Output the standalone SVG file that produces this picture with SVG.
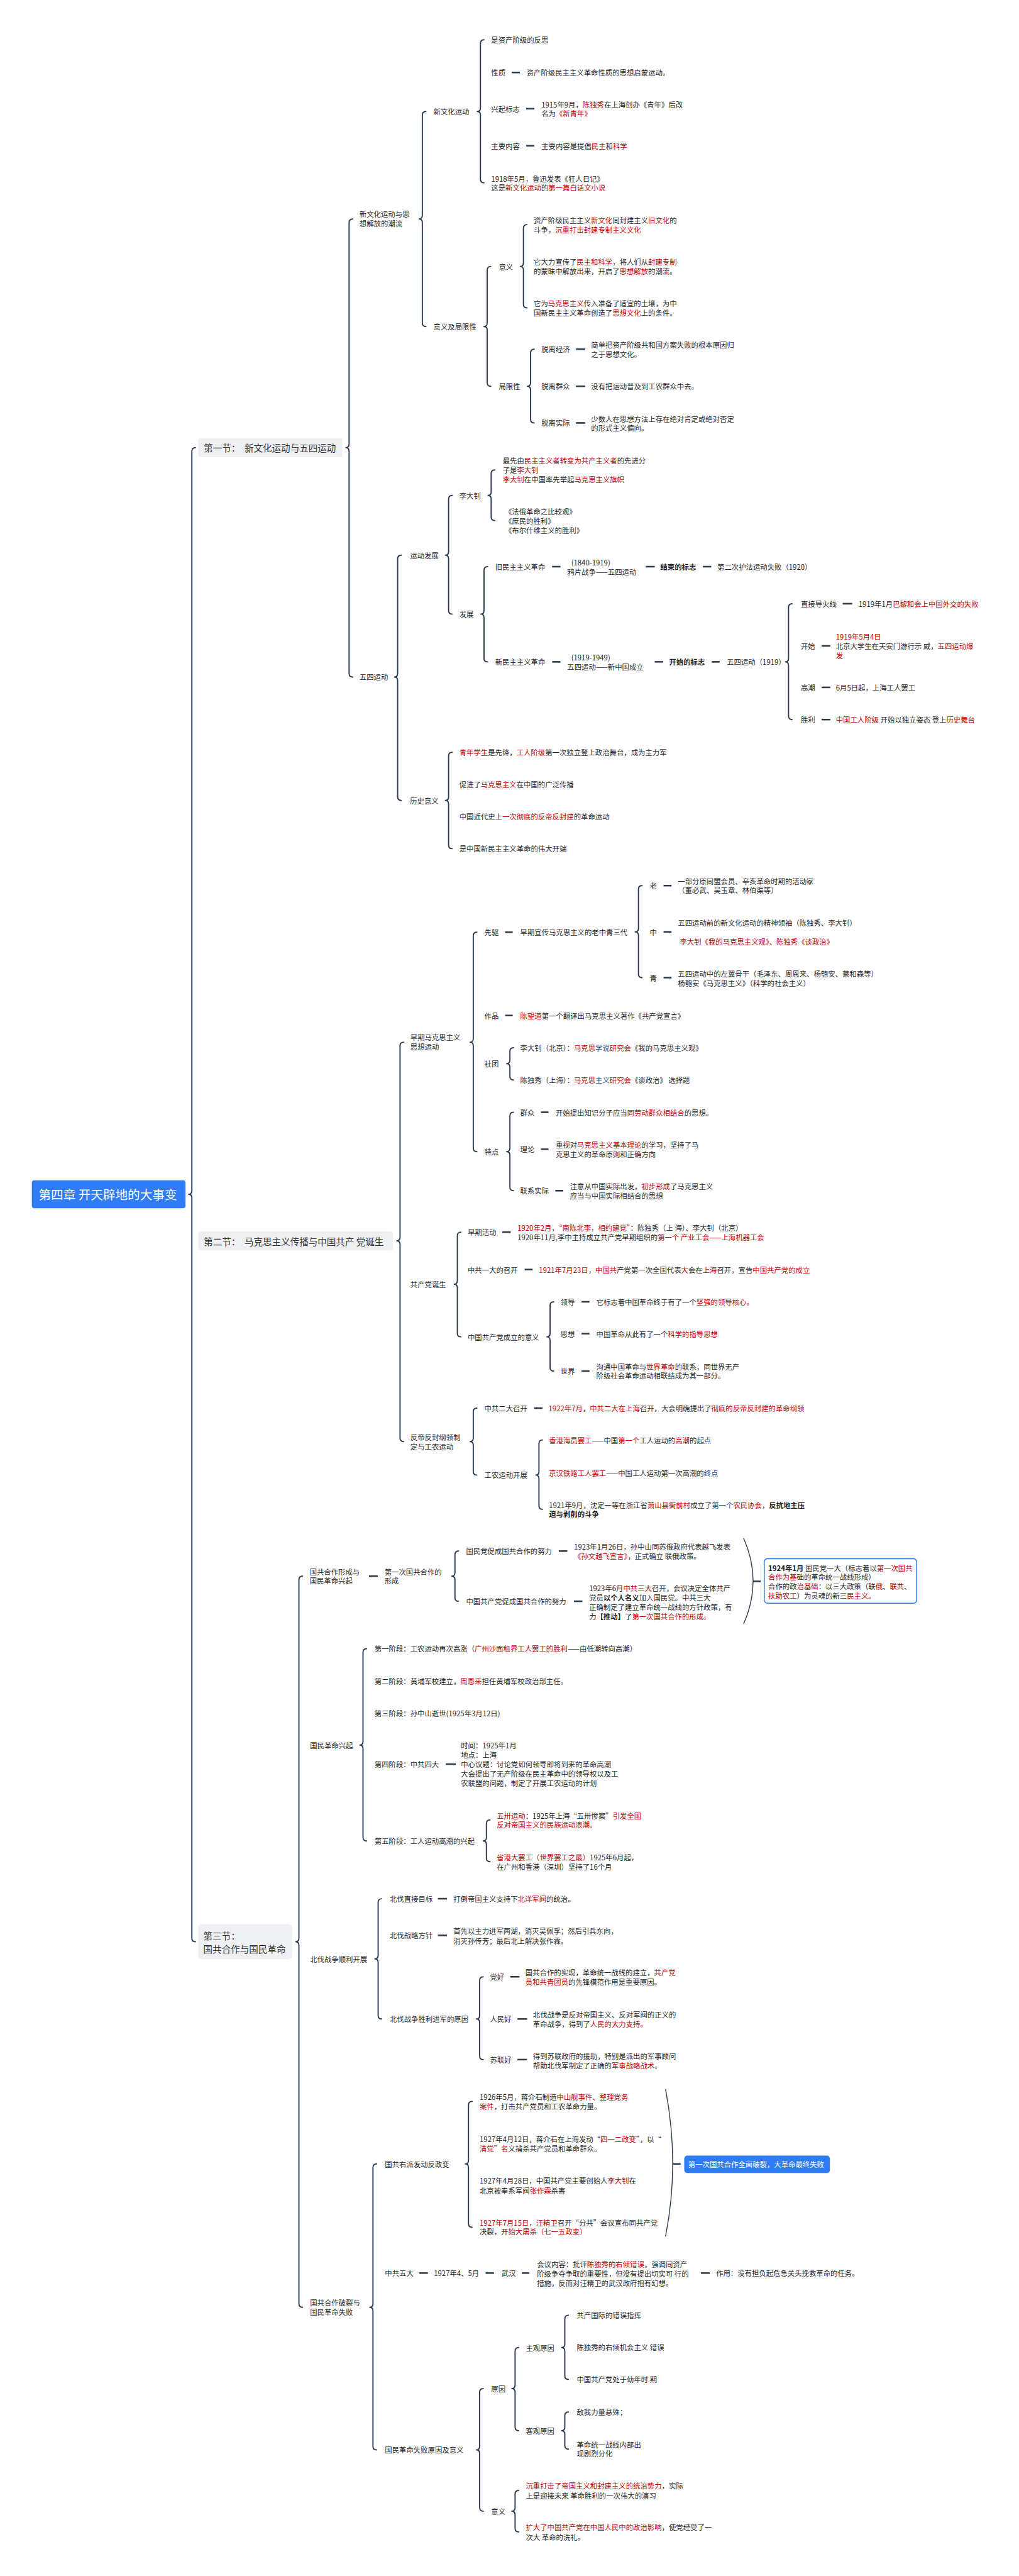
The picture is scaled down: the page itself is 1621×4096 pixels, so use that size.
<svg xmlns="http://www.w3.org/2000/svg" width="1621" height="4096" viewBox="0 0 1621 4096">
<style>
text{font-family:"Noto Sans CJK SC","Noto Sans",sans-serif;font-size:18px;fill:#1f1f1f;dominant-baseline:central;white-space:pre}
.r{fill:#c00000}
.bl{fill:#1a4b9c}
.bd{font-weight:bold}
.rt{font-size:31px;fill:#ffffff}
.sec{font-size:23px;fill:#333333}
.sb{fill:#eef0f4}
.br{fill:none;stroke:#2a3a4e;stroke-width:3;stroke-linecap:round;stroke-linejoin:round}
.arc{fill:none;stroke:#2a3a4e;stroke-width:2.2}
.ds{stroke:#2a3a4e;stroke-width:4}
.wt{fill:#ffffff}
</style>
<rect x="0" y="0" width="1621" height="4096" fill="#ffffff"/>
<g transform="scale(0.6332)">
<g id="connectors">
<path class="br" d="M491,1124 Q482,1124 482,1133 L482,2990 Q482,2999 474,2999 Q482,2999 482,3008 L482,4867 Q482,4876 491,4876"/>
<path class="br" d="M886,550 Q877,550 877,559 L877,1115 Q877,1124 869,1124 Q877,1124 877,1133 L877,1691 Q877,1700 886,1700"/>
<path class="br" d="M1070,280 Q1061,280 1061,289 L1061,541 Q1061,550 1053,550 Q1061,550 1061,559 L1061,811 Q1061,820 1070,820"/>
<path class="br" d="M1008,1394 Q999,1394 999,1403 L999,1691 Q999,1700 991,1700 Q999,1700 999,1709 L999,2001 Q999,2010 1008,2010"/>
<path class="br" d="M1216,100 Q1207,100 1207,109 L1207,271 Q1207,280 1199,280 Q1207,280 1207,289 L1207,450 Q1207,459 1216,459"/>
<path class="br" d="M1233,669 Q1224,669 1224,678 L1224,811 Q1224,820 1216,820 Q1224,820 1224,829 L1224,961 Q1224,970 1233,970"/>
<path class="br" d="M1324,564 Q1315,564 1315,573 L1315,660 Q1315,669 1307,669 Q1315,669 1315,678 L1315,764 Q1315,773 1324,773"/>
<path class="br" d="M1342,877 Q1333,877 1333,886 L1333,961 Q1333,970 1325,970 Q1333,970 1333,979 L1333,1053 Q1333,1062 1342,1062"/>
<path class="br" d="M1136,1244 Q1127,1244 1127,1253 L1127,1385 Q1127,1394 1119,1394 Q1127,1394 1127,1403 L1127,1533 Q1127,1542 1136,1542"/>
<path class="br" d="M1243,1180 Q1234,1180 1234,1189 L1234,1235 Q1234,1244 1226,1244 Q1234,1244 1234,1253 L1234,1298 Q1234,1307 1243,1307"/>
<path class="br" d="M1225,1423 Q1216,1423 1216,1432 L1216,1533 Q1216,1542 1208,1542 Q1216,1542 1216,1551 L1216,1653 Q1216,1662 1225,1662"/>
<path class="br" d="M1990,1516 Q1981,1516 1981,1525 L1981,1653 Q1981,1662 1973,1662 Q1981,1662 1981,1671 L1981,1798 Q1981,1807 1990,1807"/>
<path class="br" d="M1136,1889 Q1127,1889 1127,1898 L1127,2001 Q1127,2010 1119,2010 Q1127,2010 1127,2019 L1127,2122 Q1127,2131 1136,2131"/>
<path class="br" d="M1014,2617 Q1005,2617 1005,2626 L1005,3107 Q1005,3116 997,3116 Q1005,3116 1005,3125 L1005,3611 Q1005,3620 1014,3620"/>
<path class="br" d="M1198,2341 Q1189,2341 1189,2350 L1189,2608 Q1189,2617 1181,2617 Q1189,2617 1189,2626 L1189,2883 Q1189,2892 1198,2892"/>
<path class="br" d="M1613,2224 Q1604,2224 1604,2233 L1604,2331 Q1604,2340 1596,2340 Q1604,2340 1604,2349 L1604,2446 Q1604,2455 1613,2455"/>
<path class="br" d="M1290,2631 Q1281,2631 1281,2640 L1281,2662 Q1281,2671 1273,2671 Q1281,2671 1281,2680 L1281,2703 Q1281,2712 1290,2712"/>
<path class="br" d="M1290,2793 Q1281,2793 1281,2802 L1281,2883 Q1281,2892 1273,2892 Q1281,2892 1281,2901 L1281,2981 Q1281,2990 1290,2990"/>
<path class="br" d="M1158,3094 Q1149,3094 1149,3103 L1149,3216 Q1149,3225 1141,3225 Q1149,3225 1149,3234 L1149,3348 Q1149,3357 1158,3357"/>
<path class="br" d="M1391,3269 Q1382,3269 1382,3278 L1382,3348 Q1382,3357 1374,3357 Q1382,3357 1382,3366 L1382,3434 Q1382,3443 1391,3443"/>
<path class="br" d="M1198,3536 Q1189,3536 1189,3545 L1189,3611 Q1189,3620 1181,3620 Q1189,3620 1189,3629 L1189,3695 Q1189,3704 1198,3704"/>
<path class="br" d="M1363,3616 Q1354,3616 1354,3625 L1354,3695 Q1354,3704 1346,3704 Q1354,3704 1354,3713 L1354,3781 Q1354,3790 1363,3790"/>
<path class="br" d="M760,3958 Q751,3958 751,3967 L751,4867 Q751,4876 743,4876 Q751,4876 751,4885 L751,5785 Q751,5794 760,5794"/>
<path class="br" d="M1152,3895 Q1143,3895 1143,3904 L1143,3949 Q1143,3958 1135,3958 Q1143,3958 1143,3967 L1143,4012 Q1143,4021 1152,4021"/>
<path class="br" d="M921,4140 Q912,4140 912,4149 L912,4373 Q912,4382 904,4382 Q912,4382 912,4391 L912,4614 Q912,4623 921,4623"/>
<path class="br" d="M1231,4570 Q1222,4570 1222,4579 L1222,4614 Q1222,4623 1214,4623 Q1222,4623 1222,4632 L1222,4666 Q1222,4675 1231,4675"/>
<path class="br" d="M959,4768 Q950,4768 950,4777 L950,4910 Q950,4919 942,4919 Q950,4919 950,4928 L950,5061 Q950,5070 959,5070"/>
<path class="br" d="M1214,4964 Q1205,4964 1205,4973 L1205,5061 Q1205,5070 1197,5070 Q1205,5070 1205,5079 L1205,5163 Q1205,5172 1214,5172"/>
<path class="br" d="M946,5434 Q937,5434 937,5443 L937,5785 Q937,5794 929,5794 Q937,5794 937,5803 L937,6143 Q937,6152 946,6152"/>
<path class="br" d="M1186,5277 Q1177,5277 1177,5286 L1177,5425 Q1177,5434 1169,5434 Q1177,5434 1177,5443 L1177,5584 Q1177,5593 1186,5593"/>
<path class="br" d="M1214,5998 Q1205,5998 1205,6007 L1205,6143 Q1205,6152 1197,6152 Q1205,6152 1205,6161 L1205,6297 Q1205,6306 1214,6306"/>
<path class="br" d="M1303,5895 Q1294,5895 1294,5904 L1294,5989 Q1294,5998 1286,5998 Q1294,5998 1294,6007 L1294,6095 Q1294,6104 1303,6104"/>
<path class="br" d="M1428,5814 Q1419,5814 1419,5823 L1419,5886 Q1419,5895 1411,5895 Q1419,5895 1419,5904 L1419,5966 Q1419,5975 1428,5975"/>
<path class="br" d="M1428,6057 Q1419,6057 1419,6066 L1419,6095 Q1419,6104 1411,6104 Q1419,6104 1419,6113 L1419,6141 Q1419,6150 1428,6150"/>
<path class="br" d="M1303,6254 Q1294,6254 1294,6263 L1294,6297 Q1294,6306 1286,6306 Q1294,6306 1294,6315 L1294,6349 Q1294,6358 1303,6358"/>
<path class="arc" d="M1868,3862 Q1916,3970 1868,4078"/>
<path class="arc" d="M1672,5246 Q1708,5434 1672,5616"/>
<line class="ds" x1="1286" y1="182" x2="1306" y2="182"/>
<line class="ds" x1="1322" y1="273" x2="1342" y2="273"/>
<line class="ds" x1="1322" y1="366" x2="1342" y2="366"/>
<line class="ds" x1="1447" y1="877" x2="1470" y2="877"/>
<line class="ds" x1="1447" y1="970" x2="1470" y2="970"/>
<line class="ds" x1="1447" y1="1062" x2="1470" y2="1062"/>
<line class="ds" x1="1387" y1="1423" x2="1408" y2="1423"/>
<line class="ds" x1="1622" y1="1423" x2="1645" y2="1423"/>
<line class="ds" x1="1766" y1="1423" x2="1787" y2="1423"/>
<line class="ds" x1="1387" y1="1662" x2="1408" y2="1662"/>
<line class="ds" x1="1645" y1="1662" x2="1666" y2="1662"/>
<line class="ds" x1="1788" y1="1662" x2="1808" y2="1662"/>
<line class="ds" x1="2117" y1="1516" x2="2141" y2="1516"/>
<line class="ds" x1="2064" y1="1622" x2="2086" y2="1622"/>
<line class="ds" x1="2064" y1="1726" x2="2086" y2="1726"/>
<line class="ds" x1="2064" y1="1807" x2="2086" y2="1807"/>
<line class="ds" x1="1269" y1="2341" x2="1288" y2="2341"/>
<line class="ds" x1="1667" y1="2224" x2="1687" y2="2224"/>
<line class="ds" x1="1667" y1="2340" x2="1687" y2="2340"/>
<line class="ds" x1="1667" y1="2455" x2="1687" y2="2455"/>
<line class="ds" x1="1269" y1="2550" x2="1288" y2="2550"/>
<line class="ds" x1="1359" y1="2793" x2="1378" y2="2793"/>
<line class="ds" x1="1359" y1="2886" x2="1378" y2="2886"/>
<line class="ds" x1="1395" y1="2990" x2="1415" y2="2990"/>
<line class="ds" x1="1262" y1="3094" x2="1283" y2="3094"/>
<line class="ds" x1="1318" y1="3188" x2="1338" y2="3188"/>
<line class="ds" x1="1461" y1="3269" x2="1481" y2="3269"/>
<line class="ds" x1="1461" y1="3349" x2="1481" y2="3349"/>
<line class="ds" x1="1461" y1="3443" x2="1481" y2="3443"/>
<line class="ds" x1="1342" y1="3536" x2="1363" y2="3536"/>
<line class="ds" x1="927" y1="3958" x2="949" y2="3958"/>
<line class="ds" x1="1404" y1="3895" x2="1425" y2="3895"/>
<line class="ds" x1="1442" y1="4021" x2="1463" y2="4021"/>
<line class="ds" x1="1892" y1="3971" x2="1911" y2="3971"/>
<line class="ds" x1="1120" y1="4430" x2="1145" y2="4430"/>
<line class="ds" x1="1100" y1="4768" x2="1123" y2="4768"/>
<line class="ds" x1="1100" y1="4860" x2="1123" y2="4860"/>
<line class="ds" x1="1282" y1="4964" x2="1305" y2="4964"/>
<line class="ds" x1="1300" y1="5070" x2="1324" y2="5070"/>
<line class="ds" x1="1300" y1="5172" x2="1324" y2="5172"/>
<line class="ds" x1="1690" y1="5434" x2="1710" y2="5434"/>
<line class="ds" x1="1053" y1="5708" x2="1075" y2="5708"/>
<line class="ds" x1="1220" y1="5708" x2="1241" y2="5708"/>
<line class="ds" x1="1311" y1="5708" x2="1330" y2="5708"/>
<line class="ds" x1="1761" y1="5708" x2="1783" y2="5708"/>
</g>

<g id="root"><rect x="80" y="2964" width="386" height="70" rx="6" fill="#2f7cf6"/><text class="rt" x="97" y="2999">第四章 开天辟地的大事变</text></g>

<g id="sec1"><rect class="sb" x="498" y="1100" width="362" height="48" rx="6"/><text class="sec" x="512" y="1124">第一节：  新文化运动与五四运动</text></g>
<g id="sec2"><rect class="sb" x="498" y="3092" width="489" height="48" rx="6"/><text class="sec" x="512" y="3116">第二节：  马克思主义传播与中国共产 党诞生</text></g>
<g id="sec3"><rect class="sb" x="498" y="4832" width="236" height="88" rx="8"/><text class="sec" x="511" y="4860">第三节：</text><text class="sec" x="511" y="4893">国共合作与国民革命</text></g>

<g id="s1-a"><text x="903" y="537">新文化运动与思</text><text x="903" y="561">想解放的潮流</text></g>
<g id="s1-a1"><text x="1089" y="280">新文化运动</text></g>
<g id="s1-a1-1"><text x="1234" y="100">是资产阶级的反思</text></g>
<g id="s1-a1-2"><text x="1234" y="182">性质</text><text x="1323" y="182">资产阶级民主主义革命性质的思想启蒙运动。</text></g>
<g id="s1-a1-3"><text x="1234" y="273">兴起标志</text><text x="1360" y="262">1915年9月，<tspan class="r">陈独秀</tspan>在上海创办《青年》后改</text><text x="1360" y="285">名为<tspan class="r">《新青年》</tspan></text></g>
<g id="s1-a1-4"><text x="1234" y="366">主要内容</text><text x="1360" y="366">主要内容是提倡<tspan class="r">民主</tspan>和<tspan class="r">科学</tspan></text></g>
<g id="s1-a1-5"><text x="1234" y="448">1918年5月，鲁迅发表《狂人日记》</text><text x="1234" y="470">这是<tspan class="r">新文化运动</tspan>的<tspan class="r">第一篇白话文小说</tspan></text></g>
<g id="s1-a2"><text x="1089" y="820">意义及局限性</text></g>
<g id="s1-a2-1"><text x="1253" y="669">意义</text>
<text x="1341" y="552">资产阶级民主主义<tspan class="r">新文化</tspan>同封建主义<tspan class="r">旧文化</tspan>的</text><text x="1341" y="576">斗争，<tspan class="r">沉重打击封建专制主义文化</tspan></text>
<text x="1341" y="657">它大力宣传了<tspan class="r">民主和科学</tspan>，将人们从<tspan class="r">封建专制</tspan></text><text x="1341" y="681">的蒙昧中解放出来，开启了<tspan class="r">思想解放</tspan>的潮流。</text>
<text x="1341" y="761">它为<tspan class="r">马克思主义</tspan>传入准备了适宜的土壤，为中</text><text x="1341" y="785">国新民主主义革命创造了<tspan class="r">思想文化</tspan>上的条件。</text></g>
<g id="s1-a2-2"><text x="1253" y="970">局限性</text>
<text x="1360" y="877">脱离经济</text><text x="1485" y="866">简单把资产阶级共和国方案失败的根本原因归</text><text x="1485" y="889">之于思想文化。</text>
<text x="1360" y="970">脱离群众</text><text x="1485" y="970">没有把运动普及到工农群众中去。</text>
<text x="1360" y="1062">脱离实际</text><text x="1485" y="1052">少数人在思想方法上存在绝对肯定或绝对否定</text><text x="1485" y="1074">的形式主义偏向。</text></g>

<g id="s1-b"><text x="903" y="1700">五四运动</text></g>
<g id="s1-b1"><text x="1030" y="1394">运动发展</text></g>
<g id="s1-b1-1"><text x="1154" y="1244">李大钊</text>
<text x="1263" y="1156">最先由<tspan class="r">民主主义者转变为共产主义者</tspan>的先进分</text><text x="1263" y="1180">子是<tspan class="r">李大钊</tspan></text><text x="1263" y="1204"><tspan class="r">李大钊</tspan>在中国率先举起<tspan class="r">马克思主义旗帜</tspan></text>
<text x="1268" y="1284">《法俄革命之比较观》</text><text x="1268" y="1307">《庶民的胜利》</text><text x="1268" y="1331">《布尔什维主义的胜利》</text></g>
<g id="s1-b1-2"><text x="1154" y="1542">发展</text>
<text x="1244" y="1423">旧民主主义革命</text><text x="1435" y="1412">(1840-1919)</text><text x="1425" y="1436">鸦片战争——五四运动</text><text class="bd" x="1659" y="1423">结束的标志</text><text x="1802" y="1423">第二次护法运动失败（1920）</text>
<text x="1244" y="1662">新民主主义革命</text><text x="1435" y="1650">(1919-1949)</text><text x="1425" y="1674">五四运动——新中国成立</text><text class="bd" x="1681" y="1662">开始的标志</text><text x="1826" y="1662">五四运动（1919）</text>
<text x="2012" y="1516">直接导火线</text><text x="2157" y="1516">1919年1月<tspan class="r">巴黎和会上中国外交的失败</tspan></text>
<text x="2012" y="1622">开始</text><text x="2100" y="1598" class="r">1919年5月4日</text><text x="2100" y="1622">北京大学生在天安门游行示 威，<tspan class="r">五四运动爆</tspan></text><text x="2100" y="1645" class="r">发</text>
<text x="2012" y="1726">高潮</text><text x="2100" y="1726">6月5日起，上海工人罢工</text>
<text x="2012" y="1807">胜利</text><text x="2100" y="1807"><tspan class="r">中国工人阶级</tspan> 开始以独立姿态 登上<tspan class="r">历史舞台</tspan></text></g>
<g id="s1-b2"><text x="1030" y="2010">历史意义</text>
<text x="1154" y="1889"><tspan class="r">青年学生</tspan>是先锋，<tspan class="r">工人阶级</tspan>第一次独立登上政治舞台，成为主力军</text>
<text x="1154" y="1970">促进了<tspan class="r">马克思主义</tspan>在中国的广泛传播</text>
<text x="1154" y="2050">中国近代史上<tspan class="r">一次彻底的反帝反封建</tspan>的革命运动</text>
<text x="1154" y="2131">是中国新民主主义革命的伟大开端</text></g>

<g id="s2-a"><text x="1031" y="2605">早期马克思主义</text><text x="1031" y="2628">思想运动</text></g>
<g id="s2-a1"><text x="1217" y="2341">先驱</text><text x="1307" y="2341">早期宣传马克思主义的老中青三代</text>
<text x="1632" y="2224">老</text><text x="1703" y="2212">一部分原同盟会员、辛亥革命时期的活动家</text><text x="1703" y="2235">（董必武、吴玉章、林伯渠等）</text>
<text x="1632" y="2340">中</text><text x="1703" y="2317">五四运动前的新文化运动的精神领袖（陈独秀、李大钊）</text><text x="1708" y="2364" class="r">李大钊《我的马克思主义观》、陈独秀《谈政治》</text>
<text x="1632" y="2455">青</text><text x="1703" y="2445">五四运动中的左翼骨干（毛泽东、周恩来、杨匏安、蔡和森等）</text><text x="1703" y="2468">杨匏安《马克思主义》（科学的社会主义）</text></g>
<g id="s2-a2"><text x="1217" y="2550">作品</text><text x="1307" y="2550"><tspan class="r">陈望道</tspan>第一个翻译出马克思主义著作《共产党宣言》</text></g>
<g id="s2-a3"><text x="1217" y="2671">社团</text>
<text x="1307" y="2631">李大钊（北京）：<tspan class="r">马克思</tspan><tspan class="bl">学说</tspan><tspan class="r">研究会</tspan>《我的马克思主义观》</text>
<text x="1307" y="2712">陈独秀（上海）：<tspan class="r">马克思</tspan><tspan class="bl">主义</tspan><tspan class="r">研究会</tspan>《谈政治》 选择题</text></g>
<g id="s2-a4"><text x="1217" y="2892">特点</text>
<text x="1307" y="2793">群众</text><text x="1396" y="2793">开始提出知识分子应当<tspan class="r">同劳动群众相结合</tspan>的思想。</text>
<text x="1307" y="2886">理论</text><text x="1396" y="2874">重视对<tspan class="r">马克思主义基本理论</tspan>的学习，坚持了马</text><text x="1396" y="2898">克思主义的革命原则和正确方向</text>
<text x="1307" y="2990">联系实际</text><text x="1432" y="2979">注意从中国实际出发，<tspan class="r">初步形成</tspan>了马克思主义</text><text x="1432" y="3002">应当与中国实际相结合的思想</text></g>

<g id="s2-b"><text x="1031" y="3225">共产党诞生</text>
<text x="1175" y="3094">早期活动</text><text x="1300" y="3082"><tspan class="r">1920年2月，“南陈北李，相约建党”</tspan>：陈独秀（上 海）、李大钊（北京）</text><text x="1300" y="3106">1920年11月,李中主持成立共产党早期组织的<tspan class="r">第一个 产业工会——上海机器工会</tspan></text>
<text x="1175" y="3188">中共一大的召开</text><text x="1354" y="3188"><tspan class="r">1921年7月23日</tspan>，<tspan class="r">中国共</tspan>产党第<tspan class="r">一</tspan>次全国代表<tspan class="r">大</tspan>会在<tspan class="r">上海</tspan>召开，宣告<tspan class="r">中国共产党的成立</tspan></text>
<text x="1175" y="3357">中国共产党成立的意义</text>
<text x="1408" y="3269">领导</text><text x="1498" y="3269">它标志着中国革命终于有了一个<tspan class="r">坚强的领导核心。</tspan></text>
<text x="1408" y="3349">思想</text><text x="1498" y="3349">中国革命从此有了一个<tspan class="r">科学的指导思想</tspan></text>
<text x="1408" y="3443">世界</text><text x="1498" y="3431">沟通中国革命与<tspan class="r">世界革命</tspan>的联系，同世界无产</text><text x="1498" y="3454">阶级社会革命运动相联结成为其一部分。</text></g>

<g id="s2-c"><text x="1031" y="3609">反帝反封纲领制</text><text x="1031" y="3632">定与工农运动</text>
<text x="1217" y="3536">中共二大召开</text><text x="1378" y="3536"><tspan class="r">1922年7月</tspan>，<tspan class="r">中共二大在上海</tspan>召开，大会明确提出了<tspan class="r">彻底的反帝反封建的革命纲领</tspan></text>
<text x="1217" y="3704">工农运动开展</text>
<text x="1379" y="3616"><tspan class="r">香港海员罢工</tspan>——中国<tspan class="r">第一个</tspan>工人运动的<tspan class="r">高潮</tspan>的<tspan class="bl">起点</tspan></text>
<text x="1379" y="3698"><tspan class="r">京汉铁路工人罢工</tspan>——中国工人运动第一次高潮的<tspan class="bl">终点</tspan></text>
<text x="1379" y="3779">1921年9月，沈定一等在浙江省<tspan class="r">萧山县衙前村</tspan>成立了<tspan class="bl">第一个</tspan><tspan class="r">农民协会</tspan>，<tspan class="bd">反抗地主压</tspan></text><text x="1379" y="3801" class="bd">迫与剥削的斗争</text></g>

<g id="s3-a"><text x="778" y="3947">国共合作形成与</text><text x="778" y="3969">国民革命兴起</text>
<text x="966" y="3947">第一次国共合作的</text><text x="966" y="3969">形成</text>
<text x="1171" y="3895">国民党促成国共合作的努力</text><text x="1442" y="3884">1923年1月26日，孙中山同苏俄政府代表越飞发表</text><text x="1442" y="3907"><tspan class="r">《孙文越飞宣言》</tspan>，正式确立 联俄政策。</text>
<text x="1171" y="4021">中国共产党促成国共合作的努力</text><text x="1480" y="3988">1923年6月<tspan class="r">中共三大</tspan>召开，会议决定全体共产</text><text x="1480" y="4011">党员<tspan class="bd">以个人名义</tspan>加入国民党。中共三大</text><text x="1480" y="4035">正确制定了建立革命统一战线的方针政策，有</text><text x="1480" y="4059">力<tspan class="bd">【推动】</tspan>了<tspan class="r">第一次国共合作的形成。</tspan></text></g>
<g id="s3-note1"><rect x="1920" y="3914" width="383" height="112" rx="8" fill="#ffffff" stroke="#2f7cf6" stroke-width="2.5"/>
<text x="1930" y="3937"><tspan class="bd">1924年1月</tspan> 国民党一大（标志着以<tspan class="r">第一次国共</tspan></text>
<text x="1930" y="3960"><tspan class="r">合作为基</tspan>础的革命统一战线形成）</text>
<text x="1930" y="3983">合作的政<tspan class="r">治基础</tspan>：以三大政策（联<tspan class="r">俄</tspan>、<tspan class="r">联共、</tspan></text>
<text x="1930" y="4007"><tspan class="r">扶助农工</tspan>）为灵魂的新<tspan class="r">三民主义。</tspan></text></g>

<g id="s3-b"><text x="779" y="4382">国民革命兴起</text>
<text x="941" y="4140">第一阶段：工农运动再次高涨（<tspan class="r">广州沙面租界工人罢工的胜利</tspan>——由低潮转向高潮）</text>
<text x="941" y="4221">第二阶段：黄埔军校建立，<tspan class="r">周恩来</tspan>担任黄埔军校政治部主任。</text>
<text x="941" y="4302">第三阶段：孙中山逝世(1925年3月12日)</text>
<text x="941" y="4430">第四阶段：中共四大</text><text x="1158" y="4382">时间：1925年1月</text><text x="1158" y="4406">地点：上海</text><text x="1158" y="4430">中心议题：讨论党如何领导即将到来的革命高潮</text><text x="1158" y="4454">大会提出了无产阶级在民主革命中的领导权以及工</text><text x="1158" y="4478">农联盟的问题，制定了开展工农运动的计划</text>
<text x="941" y="4623">第五阶段：工人运动高潮的兴起</text>
<text x="1248" y="4559"><tspan class="r">五卅运动</tspan>：1925年上海“五卅惨案”<tspan class="r">引发全国</tspan></text><text x="1248" y="4582" class="r">反对帝国主义的民族运动浪潮。</text>
<text x="1248" y="4663"><tspan class="r">省港大罢工（世界罢工之最）</tspan>1925年6月起，</text><text x="1248" y="4687">在广州和香港（深圳）坚持了16个月</text></g>

<g id="s3-c"><text x="779" y="4919">北伐战争顺利开展</text>
<text x="979" y="4768">北伐直接目标</text><text x="1139" y="4768">打倒帝国主义支持下<tspan class="r">北洋军阀</tspan>的统治。</text>
<text x="979" y="4860">北伐战略方针</text><text x="1139" y="4849">首先以主力进军两湖，消灭吴佩孚；然后引兵东向，</text><text x="1139" y="4873">消灭孙传芳；最后北上解决张作霖。</text>
<text x="979" y="5070">北伐战争胜利进军的原因</text>
<text x="1231" y="4964">党好</text><text x="1320" y="4953">国共合作的实现，革命统一战线的建立，<tspan class="r">共产党</tspan></text><text x="1320" y="4977"><tspan class="r">员和共青团员</tspan>的先锋模范作用是重要原因。</text>
<text x="1231" y="5070">人民好</text><text x="1339" y="5058">北伐战争是反对帝国主义、反对军阀的正义的</text><text x="1339" y="5082">革命战争，得到了<tspan class="r">人民的大力支持。</tspan></text>
<text x="1231" y="5172">苏联好</text><text x="1339" y="5162">得到苏联政府的援助，特别是派出的军事顾问</text><text x="1339" y="5186">帮助北伐军制定了正确的<tspan class="r">军事战略战术</tspan>。</text></g>

<g id="s3-d"><text x="779" y="5782">国共合作破裂与</text><text x="779" y="5806">国民革命失败</text>
<text x="967" y="5434">国共右派发动反政变</text>
<text x="1205" y="5265">1926年5月，蒋介石制造<tspan class="r">中山舰事件、整理党务</tspan></text><text x="1205" y="5289"><tspan class="r">案件</tspan>，打击共产党员和工农革命力量。</text>
<text x="1205" y="5371">1927年4月12日，蒋介石在上海发动“<tspan class="r">四一二政变</tspan>”，以“</text><text x="1205" y="5395"><tspan class="r">清党”名</tspan>义捕杀共产党员和革命群众。</text>
<text x="1205" y="5476">1927年4月28日，中国共产党主要创始人<tspan class="r">李大钊</tspan>在</text><text x="1205" y="5500">北京被奉系军阀<tspan class="r">张作霖</tspan>杀害</text>
<text x="1205" y="5581"><tspan class="r">1927年7月15日</tspan>，<tspan class="r">汪精卫</tspan>召开“分共”会议宣布同共产党</text><text x="1205" y="5604">决裂，开<tspan class="r">始大屠杀（七一五政变）</tspan></text>
<text x="967" y="5708">中共五大</text><text x="1090" y="5708">1927年4、5月</text><text x="1260" y="5708">武汉</text>
<text x="1349" y="5685">会议内容：批评<tspan class="r">陈独秀的右倾错误</tspan>，强调同资产</text><text x="1349" y="5709">阶级争夺争取的重要性，但没有提出切实可 行的</text><text x="1349" y="5733">措施，反而对汪精卫的武汉政府抱有幻想。</text>
<text x="1799" y="5708">作用：没有担负起危急关头挽救革命的任务。</text>
<text x="967" y="6152">国民革命失败原因及意义</text>
<text x="1234" y="5998">原因</text>
<text x="1321" y="5895">主观原因</text>
<text x="1449" y="5814">共产国际的错误指挥</text><text x="1449" y="5894">陈独秀的右倾机会主义 错误</text><text x="1449" y="5975">中国共产党处于幼年时 期</text>
<text x="1321" y="6104">客观原因</text>
<text x="1449" y="6057">敌我力量悬殊；</text><text x="1449" y="6138">革命统一战线内部出</text><text x="1449" y="6161">现剧烈分化</text>
<text x="1234" y="6306">意义</text>
<text x="1321" y="6242"><tspan class="r">沉重打击了帝国主义和封建主义的统治势力</tspan>，实际</text><text x="1321" y="6266">上是迎接未来 革命胜利的一次伟大的演习</text>
<text x="1321" y="6346"><tspan class="r">扩大了中国共产党在中国人民中的政治影响</tspan>，使党经受了一</text><text x="1321" y="6371">次大 革命的洗礼。</text></g>
<g id="s3-note2"><rect x="1719" y="5413" width="366" height="44" rx="8" fill="#2f7cf6"/><text class="wt" x="1729" y="5435">第一次国共合作全面破裂，大革命最终失败</text></g>
</g>
</svg>
